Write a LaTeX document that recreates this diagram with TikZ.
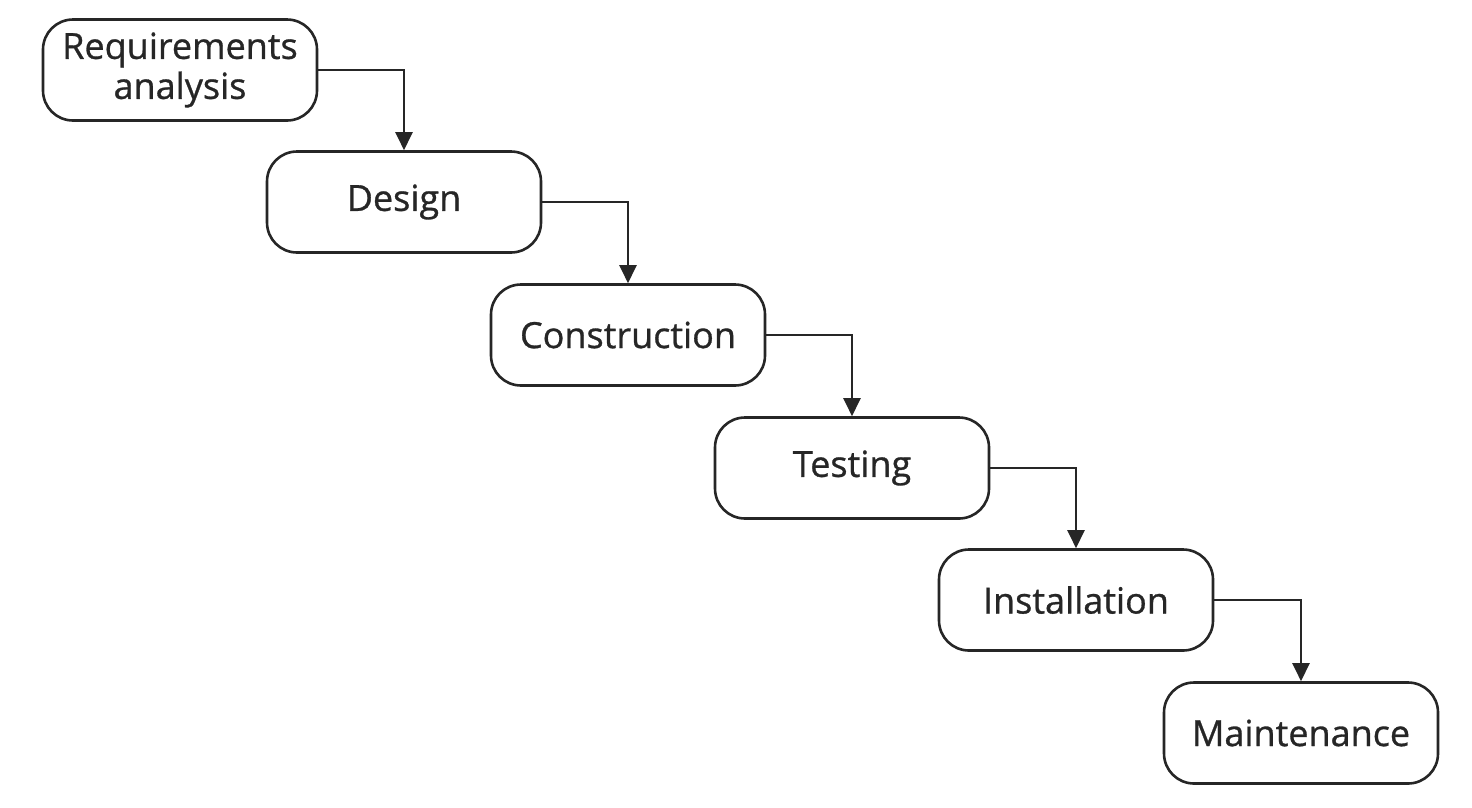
\documentclass[tikz,border=0pt]{standalone}
\usepackage{fontspec}
\setmainfont{Open Sans}
\newfontfamily\stagefont{Open Sans}[FakeBold=0.8]
\usetikzlibrary{arrows.meta}
\begin{document}
\begin{tikzpicture}[x=1pt,y=-1pt,
  stagebox/.style={draw=black!85, line width=2.6pt, rounded corners=30pt,
    minimum width=274pt, minimum height=101pt, align=center,
    font=\stagefont\fontsize{36}{40}\selectfont, text=black!85, inner sep=0pt},
  flow/.style={draw=black!85, line width=2.2pt, -{Triangle[length=18pt,width=17pt]}}]
\useasboundingbox (0,0) rectangle (1472,807);
\node[stagebox] (req) at (180,70) {Requirements\\analysis};
\node[stagebox] (des) at (404,202) {Design};
\node[stagebox] (con) at (628,335) {Construction};
\node[stagebox] (tes) at (852,468) {Testing};
\node[stagebox] (ins) at (1076,600) {Installation};
\node[stagebox] (mai) at (1301,733) {Maintenance};
\draw[flow] (req.east) -| (des.north);
\draw[flow] (des.east) -| (con.north);
\draw[flow] (con.east) -| (tes.north);
\draw[flow] (tes.east) -| (ins.north);
\draw[flow] (ins.east) -| (mai.north);
\end{tikzpicture}
\end{document}
